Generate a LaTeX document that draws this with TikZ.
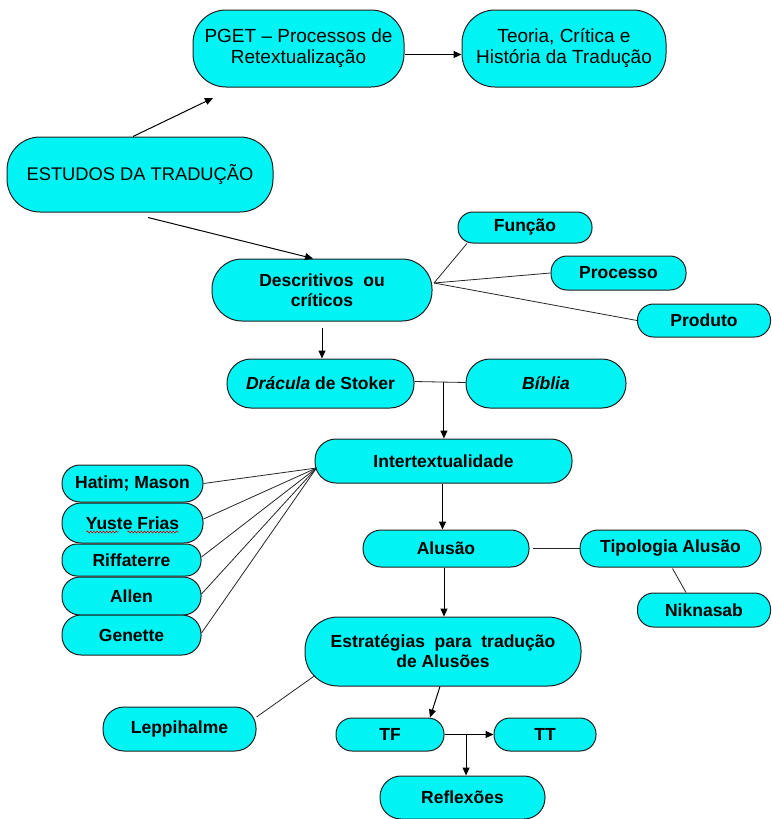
\documentclass[tikz,border=0pt]{standalone}
\usepackage{fontspec}
\setmainfont{Liberation Sans}
\usetikzlibrary{arrows.meta,calc,decorations.pathmorphing}
\definecolor{boxfill}{RGB}{0,244,244}
\definecolor{boxline}{RGB}{30,30,30}
\tikzset{
  bx/.style n args={3}{draw=boxline, line width=1pt, fill=boxfill, rectangle,
    minimum width=#1, minimum height=#2, rounded corners=#3, inner sep=0pt,
    align=center, font=\bfseries\fontsize{17.5}{20}\selectfont},
  rg/.style={font=\fontsize{19}{21}\selectfont},
  arr/.style={draw=black, line width=1pt, -{Triangle[length=8pt,width=7pt]}},
  ln/.style={draw=black!85, line width=0.8pt},
  squiggle/.style={draw=red!85!black, line width=0.6pt,
    decorate, decoration={snake, amplitude=1pt, segment length=3.2pt}}
}
\begin{document}
\begin{tikzpicture}[x=1pt,y=-1pt]
\useasboundingbox (0,0) rectangle (771,819);

% nodes
\node[bx={211pt}{77pt}{33pt}, rg] (pget) at (298.5,48.5) {PGET -- Processos de\\Retextualização};
\node[bx={204pt}{77pt}{33pt}, rg] (teo) at (564,48.5) {Teoria, Crítica e\\História da Tradução};
\node[bx={266pt}{75pt}{33pt}, font=\fontsize{18.3}{21}\selectfont] (est) at (140,174.5) {ESTUDOS DA TRADUÇÃO};
\node[bx={134pt}{31pt}{15pt}] (fun) at (525,227.5) {Função};
\node[bx={220pt}{62pt}{30pt}] (desc) at (322,290) {Descritivos\ \ ou\\críticos};
\node[bx={135pt}{34pt}{16pt}] (pro) at (618.5,273) {Processo};
\node[bx={133pt}{33pt}{16pt}] (prod) at (704,320.5) {Produto};
\node[bx={187pt}{49pt}{24pt}] (dra) at (320.5,383.5) {\textit{Drácula} de Stoker};
\node[bx={160pt}{49pt}{24pt}] (bib) at (546,383.5) {\textit{Bíblia}};
\node[bx={257pt}{44pt}{21pt}] (inter) at (443.5,461) {Intertextualidade};
\node[bx={141pt}{37pt}{18pt}] (hat) at (132.5,483.5) {Hatim; Mason};
\node[bx={141pt}{40pt}{19pt}] (yus) at (132.5,523) {Yuste Frias};
\node[bx={139pt}{32pt}{15pt}] (rif) at (131.5,560) {Riffaterre};
\node[bx={139pt}{38pt}{18pt}] (all) at (131.5,596) {Allen};
\node[bx={139pt}{40pt}{19pt}] (gen) at (131.5,635) {Genette};
\node[bx={166pt}{37pt}{18pt}] (alu) at (446,548.5) {Alusão};
\node[bx={181pt}{37pt}{18pt}] (tip) at (670.5,548.5) {Tipologia Alusão};
\node[bx={133pt}{34pt}{16pt}] (nik) at (704,610) {Niknasab};
\node[bx={276pt}{69pt}{33pt}] (estr) at (443,651.5) {Estratégias\ \ para\ \ tradução\\de Alusões};
\node[bx={153pt}{44pt}{21pt}] (lep) at (179.5,729) {Leppihalme};
\node[bx={108pt}{33pt}{16pt}] (tf) at (390,734.5) {TF};
\node[bx={102pt}{33pt}{16pt}] (tt) at (545,734.5) {TT};
\node[bx={165pt}{43pt}{21pt}] (refl) at (462.5,797.5) {Reflexões};

% spell-check underline
\draw[squiggle] ($(yus)+(-46,9)$) -- ($(yus)+(-14,9)$);
\draw[squiggle] ($(yus)+(-5,9)$) -- ($(yus)+(46,9)$);

% connectors
\coordinate (free) at (213,98);
\draw[arr] ($(est.north)+(-7,0)$) -- (free);
\draw[arr] ($(pget.east)+(0,6)$) -- ($(teo.west)+(0,6)$);
\draw[arr] ($(est.south)+(8,5)$) -- ($(desc.north)+(-9,0)$);

\coordinate (dh) at ($(desc)+(112,-7)$);
\draw[ln] (dh) -- ($(fun)+(-58,16)$);
\draw[ln] (dh) -- (pro.west);
\draw[ln] (dh) -- (prod.west);

\draw[arr] ($(desc.south)+(0,6)$) -- (desc.south |- dra.north);

\draw[ln] ($(dra.east)+(0,-2)$) -- ($(bib.west)+(0,-1)$);
\coordinate (j1) at ($(dra.east)!0.577!(bib.west)+(0,-1.5)$);
\draw[arr] (j1) -- (j1 |- inter.north);

\coordinate (ih) at ($(inter)+(-127,7)$);
\draw[ln] (ih) -- (hat.east);
\draw[ln] (ih) -- ($(yus.east)+(0,-4)$);
\draw[ln] (ih) -- ($(rif.east)+(0,-3)$);
\draw[ln] (ih) -- ($(all.east)+(0,-2)$);
\draw[ln] (ih) -- ($(gen.east)+(0,-2)$);

\coordinate (ia) at ($(inter.south)+(-1,0)$);
\draw[arr] (ia) -- (ia |- alu.north);
\draw[ln] ($(alu.east)+(3,0)$) -- (tip.west);
\draw[ln] ($(tip.south)+(2,1)$) -- ($(nik.north)+(-18,0)$);
\coordinate (ae) at ($(alu.south)+(-2,0)$);
\draw[arr] (ae) -- (ae |- estr.north);

\draw[ln] ($(estr)+(-128,24)$) -- ($(lep.east)+(0,-12)$);
\draw[arr] ($(estr.south)+(-3,0)$) -- ($(tf.north)+(40,0)$);
\draw[arr] (tf.east) -- (tt.west);
\coordinate (j2) at ($(tf.east)!0.44!(tt.west)$);
\draw[arr] (j2) -- (j2 |- refl.north);
\end{tikzpicture}
\end{document}
